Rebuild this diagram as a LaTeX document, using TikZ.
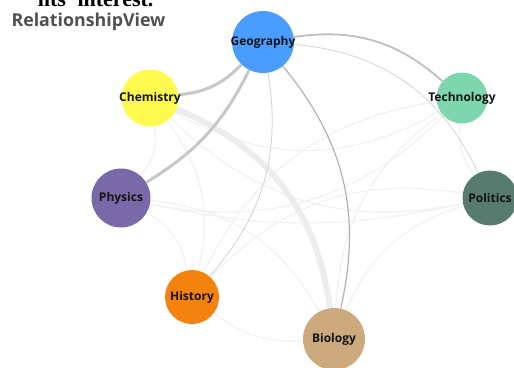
\documentclass[tikz,border=0pt]{standalone}
\usepackage{fontspec}
\setmainfont{Open Sans}
\newfontfamily\cutserif{Liberation Serif}
\usetikzlibrary{backgrounds}
\definecolor{cGeo}{RGB}{74,156,255}
\definecolor{cChe}{RGB}{255,250,80}
\definecolor{cPhy}{RGB}{122,105,168}
\definecolor{cHis}{RGB}{244,130,14}
\definecolor{cBio}{RGB}{205,170,125}
\definecolor{cTec}{RGB}{126,214,174}
\definecolor{cPol}{RGB}{88,123,111}
\definecolor{titlegray}{RGB}{80,80,80}
\newcommand{\zw}[1]{\makebox[0pt]{#1}}
\begin{document}
\begin{tikzpicture}[x=1pt,y=-1pt,
  subj/.style={circle,inner sep=0pt,minimum size=#1,
    font=\bfseries\fontsize{12}{13}\selectfont,text=black!92},
  faint/.style={draw=black!5,line width=1.3pt},
  strong/.style={draw=black!22,line width=3pt},
  medium/.style={draw=black!25,line width=1.8pt},
  thin/.style={draw=black!22,line width=0.8pt},
  band/.style={draw=black!7,line width=6pt}]
\useasboundingbox (0,0) rectangle (514,367);
\clip (0,0) rectangle (514,367);

\node[anchor=base east,font=\cutserif\bfseries\fontsize{22}{24}\selectfont] (cut) at (157,6) {nts' interest.};
\node[anchor=base west,text=titlegray,font=\bfseries\fontsize{17.8}{20}\selectfont] (title) at (8,26) {RelationshipView};

\node[subj=62pt,fill=cGeo] (geo) at (263,42) {\zw{Geography}};
\node[subj=57pt,fill=cChe] (che) at (150,98) {\zw{Chemistry}};
\node[subj=59pt,fill=cPhy] (phy) at (121,198) {\zw{Physics}};
\node[subj=54pt,fill=cHis] (his) at (192,297) {\zw{History}};
\node[subj=62pt,fill=cBio] (bio) at (334,339) {\zw{Biology}};
\node[subj=51pt,fill=cTec] (tec) at (462,98) {\zw{Technology}};
\node[subj=55pt,fill=cPol] (pol) at (490,198) {\zw{Politics}};

\begin{scope}[on background layer]
  % faint links
  \draw[faint] (che) to[bend left=25] (phy);
  \draw[faint] (che) to[bend left=25] (his);
  \draw[faint] (pol) to[bend left=28] (che);
  \draw[faint] (tec) to[bend left=30] (che);
  \draw[faint] (phy) to[bend left=25] (his);
  \draw[faint] (phy) to[bend left=28] (bio);
  \draw[faint] (pol) to[bend left=12] (phy);
  \draw[faint] (tec) to[bend left=28] (phy);
  \draw[faint] (his) to[bend right=20] (bio);
  \draw[faint] (his) to[bend left=28] (pol);
  \draw[faint] (his) to[bend left=28] (tec);
  \draw[faint] (bio) to[bend left=25] (pol);
  \draw[faint] (bio) to[bend left=25] (tec);
  \draw[faint] (pol) to[bend left=20] (tec);
  \draw[band] (che) to[bend left=30] (bio);
  % Geography links
  \draw[strong] (geo) to[bend left=20] (che);
  \draw[strong] (geo) to[bend left=16] (phy);
  \draw[medium] (geo) to[bend left=25] (tec);
  \draw[thin,draw=black!17] (geo) to[bend left=30] (pol);
  \draw[thin,draw=black!18] (geo) to[bend left=25] (his);
  \draw[thin,draw=black!30,line width=1.2pt] (geo) to[bend left=26] (bio);
\end{scope}
\end{tikzpicture}
\end{document}
